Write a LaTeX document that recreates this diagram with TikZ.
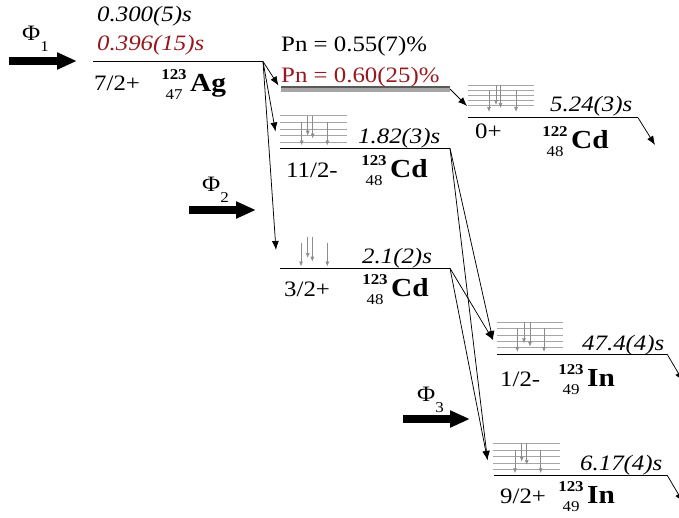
\documentclass[tikz,border=0pt]{standalone}
\usepackage{fontspec}
\setmainfont[FakeStretch=1.13]{Liberation Serif}
\usetikzlibrary{arrows.meta}
\definecolor{darkred}{RGB}{150,25,30}
\newcommand{\lvlfont}{\fontsize{22}{26}\selectfont}
\newcommand{\nuclide}[5]{% name, position, A, Z, symbol
  \node[elem] (#1) at (#2) {#5};
  \node[massno] (#1-a) at ([xshift=-16pt,yshift=12pt]#1.base west) {#3};
  \node[chargeno] (#1-z) at ([xshift=-16pt,yshift=-8pt]#1.base west) {#4};}

\begin{document}
\begin{tikzpicture}[x=1pt,y=-1pt,
	every node/.style={inner sep=0pt, anchor=base west, font=\lvlfont},
	level/.style={black, line width=0.9pt},
	sublevel/.style={gray!70, line width=0.8pt},
	gam/.style={gray!90, line width=0.7pt, -{Latex[length=5pt,width=4pt]}},
	trans/.style={line width=0.75pt, -{Latex[length=9pt,width=7pt]}},
	flux/.style={line width=7.5pt, -{Triangle[length=20pt,width=16pt]}},
	thalf/.style={font=\lvlfont\itshape},
	elem/.style={font=\fontsize{26}{30}\selectfont\bfseries},
	massno/.style={anchor=base, font=\fontsize{15}{17}\selectfont\bfseries},
	chargeno/.style={anchor=base, font=\fontsize{15}{17}\selectfont},
	phi/.style={font=\fontsize{22}{24}\selectfont}]
	\useasboundingbox (0,0) rectangle (679,517);
	% incoming beams
	\draw[flux] (9,61) coordinate (f1-s) -- (77,61) coordinate (f1-e);
	\node[phi] (phi1) at (22,40) {Φ\raisebox{-11pt}{\fontsize{15}{15}\selectfont 1}};
	\draw[flux] (189,210) coordinate (f2-s) -- (256,210) coordinate (f2-e);
	\node[phi] (phi2) at (202,191.7) {Φ\raisebox{-11pt}{\fontsize{15}{15}\selectfont 2}};
	\draw[flux] (403,419) coordinate (f3-s) -- (470,419) coordinate (f3-e);
	\node[phi] (phi3) at (417,401.7) {Φ\raisebox{-11pt}{\fontsize{15}{15}\selectfont 3}};
	% 123Ag
	\draw[level] (93,61.5) coordinate (ag-l) -- (263,61.5) coordinate (ag-r);
	\node[thalf] (ag-t1) at (97,21) {0.300(5)s};
	\node[thalf, darkred] (ag-t2) at (97,50) {0.396(15)s};
	\node (ag-jp) at (94,90) {7/2+};
	\nuclide{ag}{190,91.5}{123}{47}{Ag}
	% neutron branch
	\draw[line width=5pt, gray!70] (281,89) coordinate (pn-l) -- (450,89) coordinate (pn-r);
	\draw[line width=1.6pt, black!65] (281,87.2) -- (450,87.2);
	\node (pn1) at (281,51.7) {Pn = 0.55(7)\%};
	\node[darkred] (pn2) at (281,82.3) {Pn = 0.60(25)\%};
	% 122Cd
	\foreach \y in {85,90.3,95.5,100.6,105.7}
		\draw[sublevel] (468,\y) -- (534,\y);
	\draw[gam] (489,90.3) -- (489,112);
	\draw[gam] (496,85) -- (496,105);
	\draw[gam] (500.5,85) -- (500.5,108);
	\draw[gam] (516,90.3) -- (516,112);
	\draw[level] (468,117.7) coordinate (cdb-l) -- (638,117.7) coordinate (cdb-r);
	\node[thalf] (cdb-t) at (550,111.7) {5.24(3)s};
	\node (cdb-jp) at (475,138) {0+};
	\nuclide{cdb}{571,148.3}{122}{48}{Cd}
	% 123Cd 11/2-
	\foreach \y in {115.7,122.3,129,135.7,142.3}
		\draw[sublevel] (280,\y) -- (347,\y);
	\draw[gam] (301.7,122.3) -- (301.7,145.5);
	\draw[gam] (307.7,115.7) -- (307.7,135.7);
	\draw[gam] (312.7,115.7) -- (312.7,138.5);
	\draw[gam] (327.3,122.3) -- (327.3,145.5);
	\draw[level] (280,148.3) coordinate (cdh-l) -- (450,148.3) coordinate (cdh-r);
	\node[thalf] (cdh-t) at (358,143.3) {1.82(3)s};
	\node (cdh-jp) at (286,177) {11/2-};
	\nuclide{cdh}{390,177}{123}{48}{Cd}
	% 123Cd 3/2+
	\draw[gam] (301,243) -- (301,266.5);
	\draw[gam] (307.7,236.7) -- (307.7,258);
	\draw[gam] (312.3,236.7) -- (312.3,261.7);
	\draw[gam] (327.3,243) -- (327.3,266.5);
	\draw[level] (280,268.3) coordinate (cdg-l) -- (450,268.3) coordinate (cdg-r);
	\node[thalf] (cdg-t) at (362,263.3) {2.1(2)s};
	\node (cdg-jp) at (284,296.7) {3/2+};
	\nuclide{cdg}{391,296.7}{123}{48}{Cd}
	% 123In 1/2-
	\foreach \y in {322.3,328.3,335,341.7,347.7}
		\draw[sublevel] (497,\y) -- (563,\y);
	\draw[gam] (517.3,328.3) -- (517.3,352);
	\draw[gam] (524,322.3) -- (524,343.3);
	\draw[gam] (530,322.3) -- (530,346.7);
	\draw[gam] (544,328.3) -- (544,352);
	\draw[level] (497,354) coordinate (inm-l) -- (667,354) coordinate (inm-r);
	\node[thalf] (inm-t) at (582,350) {47.4(4)s};
	\node (inm-jp) at (500,386.7) {1/2-};
	\nuclide{inm}{587,386.7}{123}{49}{In}
	% 123In 9/2+
	\foreach \y in {443.3,450,456.7,463.3,469.3}
		\draw[sublevel] (493,\y) -- (560,\y);
	\draw[gam] (515,450) -- (515,473.3);
	\draw[gam] (521.7,443.3) -- (521.7,461.7);
	\draw[gam] (526.7,443.3) -- (526.7,465);
	\draw[gam] (540.7,450) -- (540.7,473.3);
	\draw[level] (494,475) coordinate (ing-l) -- (667,475) coordinate (ing-r);
	\node[thalf] (ing-t) at (580,470) {6.17(4)s};
	\node (ing-jp) at (500,503.3) {9/2+};
	\nuclide{ing}{587,503.3}{123}{49}{In}
	% decays
	\coordinate (pn-in) at (278.5,85.5);
	\coordinate (cdh-in) at (275.5,131.5);
	\coordinate (cdg-in) at (276,250);
	\coordinate (cdb-in) at (467,106);
	\coordinate (inm-in) at (493,340);
	\coordinate (ing-in) at (487.5,460);
	\draw[trans] (ag-r) -- (pn-in);
	\draw[trans] (ag-r) -- (cdh-in);
	\draw[trans] (ag-r) -- (cdg-in);
	\draw[trans] (pn-r) -- (cdb-in);
	\draw[trans] (cdh-r) -- (inm-in);
	\draw[trans] (cdh-r) -- (ing-in);
	\draw[trans] (cdg-r) -- (inm-in);
	\draw[trans] (cdg-r) -- (ing-in);
	\draw[trans] (cdb-r) -- (655,145) coordinate (cdb-out);
	\draw[trans] (inm-r) -- (683,381) coordinate (inm-out);
	\draw[trans] (ing-r) -- (683,502) coordinate (ing-out);
\end{tikzpicture}
\end{document}
